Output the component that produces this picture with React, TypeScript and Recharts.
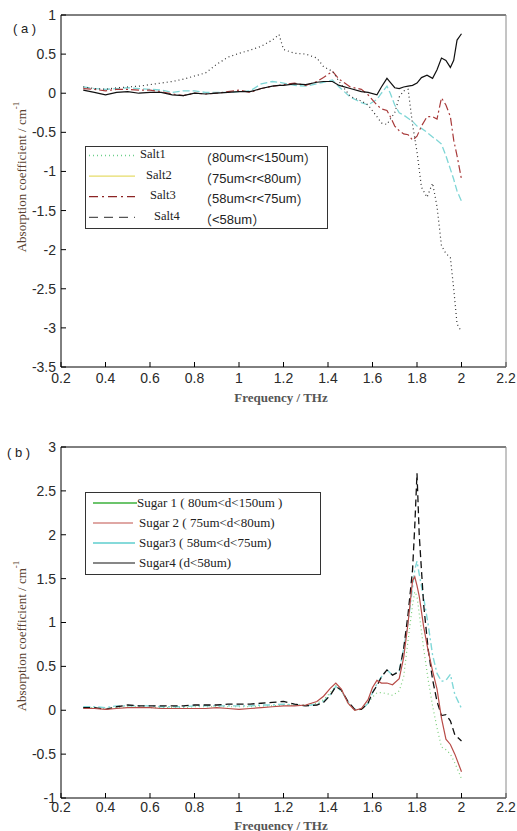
import { LineChart, Line, XAxis, YAxis } from 'recharts';

// ---- panel (a): salt samples ----
const freqA = [0.3, 0.35, 0.4, 0.45, 0.5, 0.55, 0.6, 0.65, 0.7, 0.75, 0.8, 0.85, 0.9, 0.95, 1.0, 1.05, 1.1, 1.15, 1.18, 1.2, 1.25, 1.3, 1.35, 1.38, 1.42, 1.45, 1.5, 1.55, 1.58, 1.62, 1.64, 1.665, 1.68, 1.7, 1.72, 1.74, 1.76, 1.78, 1.8, 1.82, 1.845, 1.87, 1.89, 1.91, 1.93, 1.95, 1.965, 1.98, 2.0];
const salt1 = [0.08, 0.06, 0.05, 0.07, 0.08, 0.09, 0.11, 0.13, 0.15, 0.18, 0.22, 0.26, 0.37, 0.46, 0.51, 0.55, 0.6, 0.68, 0.75, 0.56, 0.51, 0.5, 0.45, 0.34, 0.28, 0.15, -0.04, -0.1, -0.15, -0.3, -0.38, -0.4, -0.33, -0.25, -0.05, 0.03, 0.05, -0.4, -0.75, -1.2, -1.33, -1.15, -1.45, -1.95, -2.05, -2.1, -2.5, -2.95, -3.05];
const salt2 = [0.04, 0.01, -0.02, 0.01, 0.02, 0.0, 0.01, 0.01, -0.02, -0.03, 0.0, -0.01, 0.0, 0.01, 0.02, 0.02, 0.06, 0.09, 0.1, 0.1, 0.12, 0.11, 0.14, 0.15, 0.15, 0.1, 0.06, 0.02, 0.01, -0.02, 0.08, 0.19, 0.14, 0.07, 0.06, 0.08, 0.09, 0.1, 0.13, 0.2, 0.23, 0.19, 0.3, 0.45, 0.42, 0.33, 0.42, 0.68, 0.76];
const salt3 = [0.06, 0.05, 0.03, 0.05, 0.05, 0.04, 0.04, 0.02, -0.01, -0.03, 0.0, -0.01, 0.0, 0.02, 0.04, 0.01, 0.06, 0.09, 0.1, 0.11, 0.13, 0.1, 0.15, 0.2, 0.28, 0.18, 0.08, 0.05, -0.02, -0.15, -0.2, -0.22, -0.3, -0.42, -0.48, -0.52, -0.53, -0.6, -0.55, -0.42, -0.3, -0.3, -0.33, -0.06, -0.15, -0.3, -0.6, -0.8, -1.1];
const salt4 = [0.08, 0.06, 0.05, 0.06, 0.07, 0.06, 0.05, 0.04, 0.01, 0.03, 0.03, 0.01, 0.01, 0.01, 0.02, 0.03, 0.12, 0.15, 0.14, 0.13, 0.1, 0.09, 0.12, 0.14, 0.17, 0.08, -0.05, -0.12, -0.15, -0.08, 0.0, 0.09, 0.0, -0.15, -0.25, -0.28, -0.32, -0.36, -0.42, -0.45, -0.5, -0.56, -0.6, -0.65, -0.8, -0.97, -1.1, -1.25, -1.38];

// ---- panel (b): sugar samples ----
const freqB = [0.3, 0.35, 0.4, 0.45, 0.5, 0.55, 0.6, 0.65, 0.7, 0.75, 0.8, 0.85, 0.9, 0.95, 1.0, 1.05, 1.1, 1.15, 1.2, 1.25, 1.3, 1.35, 1.38, 1.41, 1.435, 1.46, 1.49, 1.52, 1.55, 1.58, 1.6, 1.62, 1.64, 1.665, 1.69, 1.72, 1.74, 1.76, 1.78, 1.79, 1.8, 1.81, 1.83, 1.85, 1.87, 1.89, 1.91, 1.93, 1.95, 1.97, 2.0];
const sugar1 = [0.03, 0.03, 0.02, 0.03, 0.04, 0.04, 0.03, 0.03, 0.03, 0.03, 0.04, 0.04, 0.04, 0.04, 0.04, 0.04, 0.05, 0.05, 0.06, 0.06, 0.06, 0.08, 0.12, 0.2, 0.28, 0.22, 0.08, 0.0, 0.01, 0.08, 0.15, 0.2, 0.2, 0.19, 0.17, 0.22, 0.38, 0.8, 1.2, 1.35, 1.3, 1.1, 0.7, 0.35, 0.05, -0.2, -0.42, -0.45, -0.5, -0.6, -0.78];
const sugar2 = [0.02, 0.02, 0.01, 0.02, 0.03, 0.03, 0.03, 0.02, 0.02, 0.02, 0.02, 0.02, 0.03, 0.02, 0.01, 0.02, 0.03, 0.04, 0.05, 0.05, 0.06, 0.1, 0.16, 0.25, 0.31, 0.24, 0.08, 0.0, 0.02, 0.12, 0.26, 0.34, 0.31, 0.31, 0.29, 0.36, 0.6, 1.0, 1.48, 1.52, 1.42, 1.3, 0.95, 0.68, 0.45, 0.24, -0.09, -0.33, -0.39, -0.5, -0.7];
const sugar3 = [0.04, 0.04, 0.03, 0.05, 0.05, 0.05, 0.05, 0.04, 0.04, 0.04, 0.05, 0.05, 0.05, 0.05, 0.05, 0.05, 0.06, 0.06, 0.07, 0.06, 0.05, 0.07, 0.1, 0.18, 0.27, 0.22, 0.1, 0.01, 0.01, 0.08, 0.2, 0.3, 0.38, 0.46, 0.4, 0.45, 0.7, 1.0, 1.4, 1.6, 1.7, 1.55, 1.28, 0.98, 0.63, 0.42, 0.33, 0.34, 0.41, 0.18, 0.02];
const sugar4 = [0.03, 0.03, 0.01, 0.04, 0.06, 0.05, 0.05, 0.05, 0.05, 0.05, 0.06, 0.06, 0.06, 0.07, 0.07, 0.07, 0.08, 0.09, 0.1, 0.07, 0.05, 0.06, 0.09, 0.17, 0.27, 0.23, 0.1, 0.01, 0.01, 0.08, 0.2, 0.28, 0.38, 0.46, 0.4, 0.44, 0.7, 1.1, 1.6, 2.1, 2.7, 2.0, 1.2, 0.7, 0.35, 0.1, -0.06, -0.05, -0.12, -0.28, -0.35];

// ---- ticks & labels ----
const xTicks = [0.2, 0.4, 0.6, 0.8, 1, 1.2, 1.4, 1.6, 1.8, 2, 2.2];
const yTicksA = [-3.5, -3, -2.5, -2, -1.5, -1, -0.5, 0, 0.5, 1];
const yTicksB = [-1, -0.5, 0, 0.5, 1, 1.5, 2, 2.5, 3];
const saltNames = ['Salt1', 'Salt2', 'Salt3', 'Salt4'];
const saltRanges = ['80um<r<150um', '75um<r<80um', '58um<r<75um', '<58um'];
const sugarNames = ['Sugar 1 ( 80um<d<150um )', 'Sugar 2 ( 75um<d<80um)', 'Sugar3 ( 58um<d<75um)', 'Sugar4 (d<58um)'];

const dataA = freqA.map((f, i) => ({ f, salt1: salt1[i], salt2: salt2[i], salt3: salt3[i], salt4: salt4[i] }));
const dataB = freqB.map((f, i) => ({ f, sugar1: sugar1[i], sugar2: sugar2[i], sugar3: sugar3[i], sugar4: sugar4[i] }));

const SANS = 'Liberation Sans, Arial, sans-serif';
const SERIF = 'Liberation Serif, Times New Roman, serif';
const CJK = 'Noto Sans CJK SC';
const tickStyle = { fontSize: 14, fill: '#2a2a2a', fontFamily: SANS };

// legend swatch styles (the original legend colours differ from the plotted ones)
const saltLegendStyle = [
    { stroke: '#6ccf8a', dash: '1 3', nameX: 140 },
    { stroke: '#e6dc6a', dash: undefined, nameX: 146 },
    { stroke: '#8c2424', dash: '9 4 2 4', nameX: 150 },
    { stroke: '#555', dash: '9 6', nameX: 154 },
];
const sugarLegendStyle = [
    { stroke: '#6cc46c', width: 2, x2: 137 },
    { stroke: '#c0504a', width: 1.2, x2: 133 },
    { stroke: '#86dada', width: 2, x2: 135 },
    { stroke: '#111', width: 1.2, x2: 135 },
];

export default function App() {
    return (
        <div style={{ position: 'absolute', left: 0, top: 0, width: 517, height: 831, background: '#fff', overflow: 'hidden' }}>
            {/* (a) */}
            <div style={{ position: 'absolute', left: 0, top: 0 }}>
                <LineChart width={517} height={415} data={dataA} margin={{ top: 15, right: 11, bottom: 0, left: 0 }}>
                    <XAxis dataKey="f" type="number" domain={[0.2, 2.2]} ticks={xTicks} interval={0} height={48}
                        axisLine={{ stroke: '#000' }} tickLine={{ stroke: '#000' }} tickSize={-5} tickMargin={11} tick={tickStyle} allowDataOverflow />
                    <YAxis type="number" domain={[-3.5, 1]} ticks={yTicksA} interval={0} width={61}
                        axisLine={{ stroke: '#000' }} tickLine={{ stroke: '#000' }} tickSize={-5} tickMargin={10} tick={tickStyle} allowDataOverflow />
                    <XAxis xAxisId="top" orientation="top" mirror dataKey="f" type="number" domain={[0.2, 2.2]} ticks={xTicks} interval={0}
                        axisLine={{ stroke: '#000' }} tickLine={{ stroke: '#000' }} tickSize={5} tick={false} allowDataOverflow />
                    <YAxis yAxisId="right" orientation="right" mirror type="number" domain={[-3.5, 1]} ticks={yTicksA} interval={0}
                        axisLine={{ stroke: '#8a8a8a' }} tickLine={{ stroke: '#c8c8c8' }} tickSize={5} tick={false} allowDataOverflow />
                    <Line dataKey="salt4" stroke="#7fd6d6" strokeWidth={1.3} strokeDasharray="7 3" dot={false} isAnimationActive={false} />
                    <Line dataKey="salt3" stroke="#a83a3a" strokeWidth={1.2} strokeDasharray="8 3 2 3" dot={false} isAnimationActive={false} />
                    <Line dataKey="salt1" stroke="#333" strokeWidth={1.2} strokeDasharray="1 3" dot={false} isAnimationActive={false} />
                    <Line dataKey="salt2" stroke="#111" strokeWidth={1.2} dot={false} isAnimationActive={false} />
                </LineChart>
            </div>

            {/* (b) */}
            <div style={{ position: 'absolute', left: 0, top: 420 }}>
                <LineChart width={517} height={411} data={dataB} margin={{ top: 27, right: 11, bottom: 0, left: 0 }}>
                    <XAxis dataKey="f" type="number" domain={[0.2, 2.2]} ticks={xTicks} interval={0} height={33}
                        axisLine={{ stroke: '#000' }} tickLine={{ stroke: '#000' }} tickSize={-5} tickMargin={9} tick={tickStyle} allowDataOverflow />
                    <YAxis type="number" domain={[-1, 3]} ticks={yTicksB} interval={0} width={61}
                        axisLine={{ stroke: '#000' }} tickLine={{ stroke: '#000' }} tickSize={-5} tickMargin={10} tick={tickStyle} allowDataOverflow />
                    <XAxis xAxisId="top" orientation="top" mirror dataKey="f" type="number" domain={[0.2, 2.2]} ticks={xTicks} interval={0}
                        axisLine={{ stroke: '#000' }} tickLine={{ stroke: '#000' }} tickSize={5} tick={false} allowDataOverflow />
                    <YAxis yAxisId="right" orientation="right" mirror type="number" domain={[-1, 3]} ticks={yTicksB} interval={0}
                        axisLine={{ stroke: '#8a8a8a' }} tickLine={{ stroke: '#c8c8c8' }} tickSize={5} tick={false} allowDataOverflow />
                    <Line dataKey="sugar1" stroke="#7ccf7c" strokeWidth={1.2} strokeDasharray="1 3" dot={false} isAnimationActive={false} />
                    <Line dataKey="sugar3" stroke="#80d8d8" strokeWidth={1.4} strokeDasharray="7 3 2 3" dot={false} isAnimationActive={false} />
                    <Line dataKey="sugar4" stroke="#111" strokeWidth={1.3} strokeDasharray="7 4" dot={false} isAnimationActive={false} />
                    <Line dataKey="sugar2" stroke="#b84c48" strokeWidth={1.2} dot={false} isAnimationActive={false} />
                </LineChart>
            </div>

            {/* titles, axis labels, legends */}
            <svg width={517} height={831} style={{ position: 'absolute', left: 0, top: 0, pointerEvents: 'none' }}>
                <text x={13} y={28} fontFamily={SANS} fontSize={13} fill="#222" dominantBaseline="central">( a )</text>
                <text x={7} y={452} fontFamily={SANS} fontSize={13} fill="#222" dominantBaseline="central">( b )</text>

                {[177, 636].map((cy) => (
                    <text key={cy} x={0} y={0} transform={`translate(21,${cy}) rotate(-90)`} textAnchor="middle" dominantBaseline="central"
                        fontFamily={SERIF} fontSize={13} fill="#5a3f30">
                        Absorption coefficient / cm<tspan dy={-5} fontSize={9}>-1</tspan>
                    </text>
                ))}
                {[397, 825].map((cy) => (
                    <text key={cy} x={281} y={cy} textAnchor="middle" dominantBaseline="central" fontFamily={SERIF} fontSize={13}
                        fontWeight="bold" fill="#555">Frequency / THz</text>
                ))}

                {/* legend (a) */}
                <rect x={85.5} y={146.5} width={242} height={82} fill="#fff" stroke="#333" strokeWidth={1} />
                {saltNames.map((name, i) => {
                    const s = saltLegendStyle[i];
                    const y = 154.5 + i * 20.6;
                    return (
                        <g key={name}>
                            <line x1={89} x2={135} y1={y + 1} y2={y + 1} stroke={s.stroke} strokeWidth={1.3} strokeDasharray={s.dash} />
                            <text x={s.nameX} y={y - 0.5} fontFamily={SERIF} fontSize={12.5} fill="#222" dominantBaseline="central">{name}</text>
                            <text x={199} y={y + 3} fontFamily={SANS} fontSize={13} fill="#222" dominantBaseline="central">
                                <tspan fontFamily={CJK}>（</tspan>{saltRanges[i]}<tspan fontFamily={CJK}>）</tspan>
                            </text>
                        </g>
                    );
                })}

                {/* legend (b) */}
                <rect x={85.5} y={492.5} width={235} height={82} fill="#fff" stroke="#333" strokeWidth={1} />
                {sugarNames.map((name, i) => {
                    const s = sugarLegendStyle[i];
                    const y = 503 + i * 20;
                    return (
                        <g key={name}>
                            <line x1={93} x2={s.x2} y1={y} y2={y} stroke={s.stroke} strokeWidth={s.width} />
                            <text x={137 + (i > 0 ? 2 : 0)} y={y - 1} fontFamily={SERIF} fontSize={13} fill="#222" dominantBaseline="central">{name}</text>
                        </g>
                    );
                })}
            </svg>
        </div>
    );
}
